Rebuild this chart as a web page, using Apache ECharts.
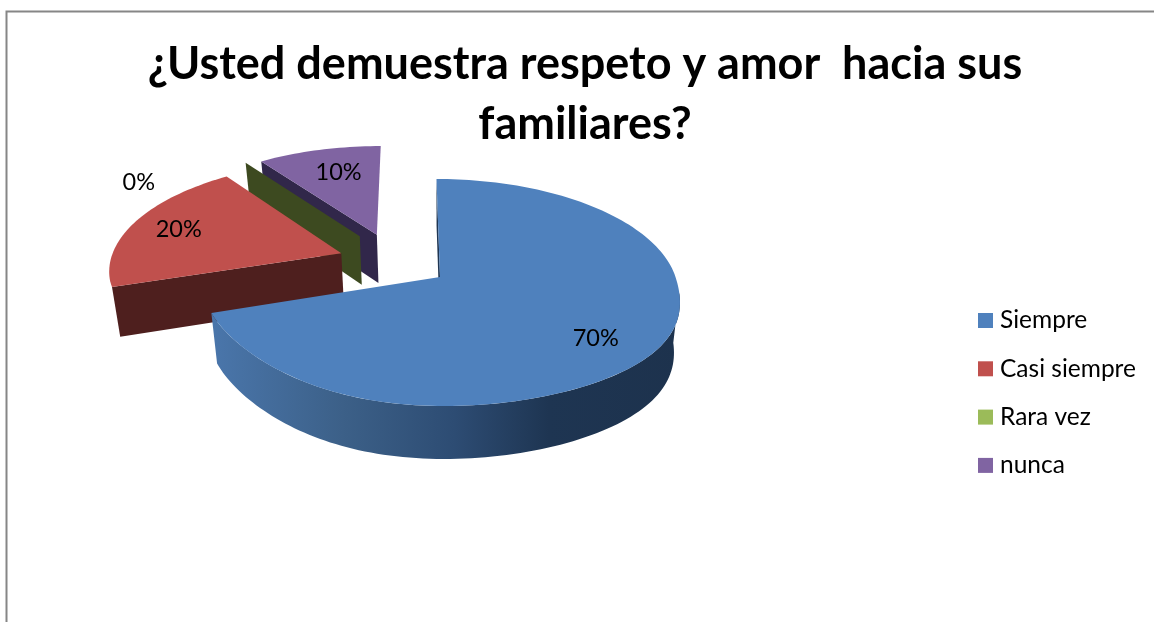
<!DOCTYPE html>
<html>
<head>
<meta charset="utf-8">
<style>
  html, body { margin: 0; padding: 0; background: #fff; }
  #chart { width: 1154px; height: 622px; }
</style>
</head>
<body>
<div id="chart"></div>
<script src="https://cdn.jsdelivr.net/npm/echarts@6/dist/echarts.min.js"></script>
<script>
const categories = ['Siempre', 'Casi siempre', 'Rara vez', 'nunca']
const values = [70, 20, 0, 10]

const TOP_COLORS = ['#4f81bd', '#c0504d', '#9bbb59', '#8064a2']
const EDGE_COLORS = ['#1f3653', '#4e1f1e', '#3d4a20', '#31274a']
// 3D look: explode offset of every slice on the pie plane, label spot on the plane
const EXPLODE = [[0, 0], [-0.428, -0.22], [-0.352, -0.385], [-0.276, -0.4]]
const LABEL_SPOTS = [[0.575, 0.515], [-1.17, -0.45], [-1.431, -0.965], [-0.476, -1.08]]
const DRAW_ORDER = [4, 3, 2, 1] // z per slice, back ones first

// perspective of the pie plane, fitted on the picture
const VIEW = { x0: 440, y0: 277, rx: 235.5, ry: 111.4, persp: 0.1366, skew: 4, lean: 57, depth: 49.5, shrink: 0.975, grow: 1.027 }
const FONT = 'Lato, "Open Sans", sans-serif'

const total = values.reduce((a, b) => a + b, 0)

function project(x, y) {
  const w = 1 - VIEW.persp * y
  // the rim leans right on the near side, the lowest point stays almost under the apex
  const skew = VIEW.skew * y + (y > 0 ? VIEW.lean * y * y * (1 - y) : 0)
  return [VIEW.x0 + (VIEW.rx * x + skew) / w, VIEW.y0 + VIEW.ry * y / w]
}
// same point on the bottom plane of the pie
function lower(p) {
  return [VIEW.x0 + (p[0] - VIEW.x0) * VIEW.shrink, VIEW.y0 + (p[1] - VIEW.y0) * VIEW.grow + VIEW.depth]
}
function rimPoint(deg, off) {
  const a = deg * Math.PI / 180
  return project(off[0] + Math.sin(a), off[1] - Math.cos(a))
}
function arc(from, to, off) {
  const pts = []
  const n = Math.max(1, Math.ceil(Math.abs(to - from) / 1.5))
  for (let i = 0; i <= n; i++) pts.push(rimPoint(from + (to - from) * i / n, off))
  return pts
}
function sliceAngles(i) {
  const before = values.slice(0, i).reduce((a, b) => a + b, 0)
  return [before / total * 360, (before + values[i]) / total * 360]
}

function renderSlice(i) {
  return function (params, api) {
    const off = EXPLODE[i]
    const [from, to] = sliceAngles(i)
    const apex = project(off[0], off[1])
    const children = []

    // side wall along the slice's starting edge
    const edgeRim = rimPoint(from, off)
    children.push({
      type: 'polygon',
      shape: { points: [edgeRim, apex, lower(apex), lower(edgeRim)] },
      style: { fill: EDGE_COLORS[i] }
    })

    // outer wall, only the blue slice shows one
    if (i === 0) {
      const rim = arc(98, to, off)
      children.push({
        type: 'polygon',
        shape: { points: rim.concat(rim.map(lower).reverse()) },
        style: {
          fill: new echarts.graphic.LinearGradient(0, 0, 1, 0, [
            { offset: 0, color: '#4a76ab' },
            { offset: 0.28, color: '#3c6088' },
            { offset: 0.52, color: '#2d4c73' },
            { offset: 0.72, color: '#1e3552' },
            { offset: 1, color: '#1d324d' }
          ])
        }
      })
    }

    // top face
    if (to > from) {
      children.push({
        type: 'polygon',
        shape: { points: [apex].concat(arc(from, to, off)) },
        style: { fill: TOP_COLORS[i] }
      })
    }

    // percent label
    const spot = project(LABEL_SPOTS[i][0], LABEL_SPOTS[i][1])
    children.push({
      type: 'text',
      z2: 10,
      style: {
        text: Math.round(api.value(0) / total * 100) + '%',
        x: spot[0], y: spot[1],
        font: '23.5px ' + FONT, fill: '#000',
        align: 'center', verticalAlign: 'middle'
      }
    })
    return { type: 'group', children }
  }
}

const chart = echarts.init(document.getElementById('chart'), null, { renderer: 'canvas' })
chart.setOption({
  animation: false,
  backgroundColor: '#fff',
  title: {
    text: '¿Usted demuestra respeto y amor  hacia sus\nfamiliares?',
    left: 580, top: 29, textAlign: 'center',
    textStyle: { fontFamily: FONT, fontSize: 45, fontWeight: 'bold', color: '#000', lineHeight: 60 }
  },
  legend: {
    orient: 'vertical', left: 973, top: 301,
    icon: 'rect', itemWidth: 15, itemHeight: 15, itemGap: 19.3,
    selectedMode: false,
    data: categories,
    textStyle: { fontFamily: FONT, fontSize: 24.5, color: '#000', padding: [0, 0, 0, 2], height: 29, lineHeight: 29 }
  },
  graphic: [{
    type: 'polyline',
    silent: true,
    shape: { points: [[6.5, 622], [6.5, 11.5], [1154, 11.5]] },
    style: { stroke: '#868686', lineWidth: 2, fill: null }
  }],
  series: categories.map((name, i) => ({
    type: 'custom',
    name,
    coordinateSystem: 'none',
    z: DRAW_ORDER[i],
    itemStyle: { color: TOP_COLORS[i] },
    renderItem: renderSlice(i),
    data: [values[i]]
  }))
})
window.addEventListener('resize', () => chart.resize())
</script>
</body>
</html>
